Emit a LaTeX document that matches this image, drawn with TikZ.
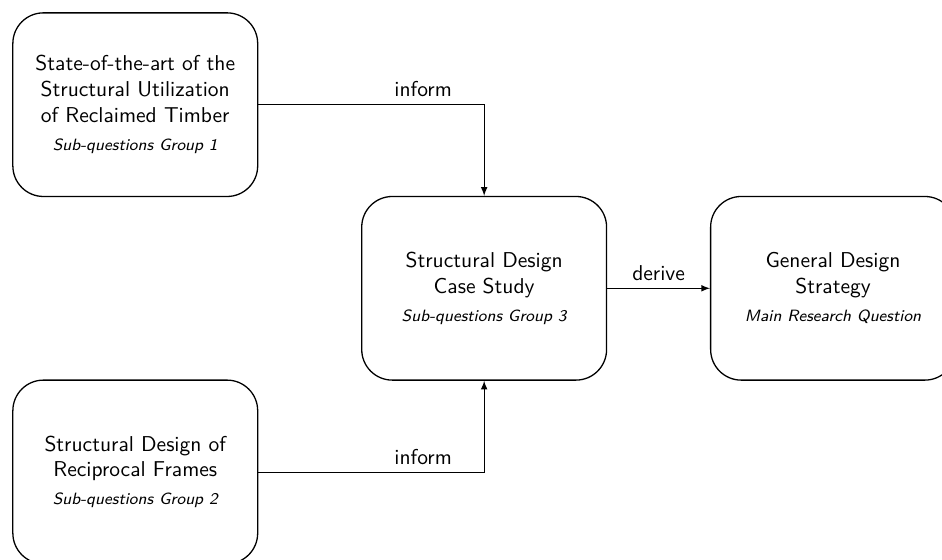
\documentclass[tikz,border=0pt]{standalone}
\usepackage{amsmath, amssymb}
\usepackage{tikz}
\usetikzlibrary{shapes,arrows,positioning}

\tikzset{
    block/.style={draw, semithick, rounded corners=0.5cm, minimum width=4cm,
        minimum height=3cm, align=center, font=\sffamily},
    link/.style={-latex, font=\sffamily}
}
\newcommand{\sub}[1]{{\fontsize{7.6}{9}\selectfont\itshape #1}}

\begin{document}
\begin{tikzpicture}
    \pgfmathsetmacro{\dx}{5.7}
    \pgfmathsetmacro{\dy}{3}
    \useasboundingbox (-7.91,-4.43) rectangle (7.48,4.71);
    % Blocks
    \node [block] (state) at (-\dx,\dy) {State-of-the-art of the\\
        Structural Utilization\\ of Reclaimed Timber\\[1pt]
        \sub{Sub-questions Group 1}};
    \node [block] (frames) at (-\dx,-\dy) {Structural Design of\\
        Reciprocal Frames\\[1pt] \sub{Sub-questions Group 2}};
    \node [block] (case) at (0,0) {Structural Design\\ Case Study\\[1pt]
        \sub{Sub-questions Group 3}};
    \node [block] (strategy) at (\dx,0) {General Design\\ Strategy\\[1pt]
        \sub{Main Research Question}};

    % Connections
    \draw [link] (state) -| (case) node [pos=0.365,above] {inform};
    \draw [link] (frames) -| (case) node [pos=0.365,above] {inform};
    \draw [link] (case) -- (strategy) node [midway,above] {derive};

\end{tikzpicture}
\end{document}
